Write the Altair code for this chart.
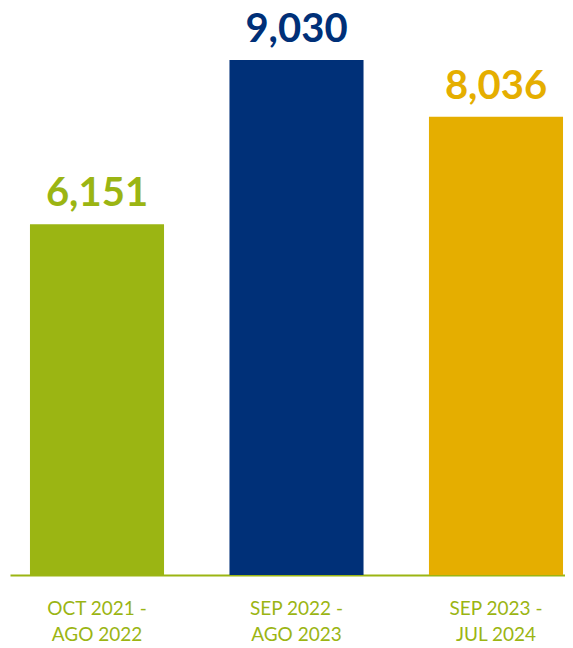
import altair as alt
import pandas as pd

period_lines = ["OCT 2021 -|AGO 2022", "SEP 2022 -|AGO 2023", "SEP 2023 -|JUL 2024"]
values = [6151, 9030, 8036]
colors = ["#9BB513", "#003078", "#E5AE00"]

df = pd.DataFrame({
    "period": period_lines,
    "value": values,
    "color": colors,
    "label": [f"{v:,}" for v in values],
})

x = alt.X(
    "period:N",
    sort=period_lines,
    scale=alt.Scale(paddingInner=0.328, paddingOuter=0.055, align=0.91),
    axis=alt.Axis(
        title=None,
        labelAngle=0,
        labelExpr="split(datum.label, '|')",
        labelFont="Lato",
        labelFontSize=19,
        labelColor="#9BB513",
        labelLineHeight=26,
        labelPadding=24,
        labelBaseline="top",
        ticks=False,
        domainColor="#9BB513",
        domainWidth=2,
        grid=False,
    ),
)
y = alt.Y("value:Q", scale=alt.Scale(domain=[0, 9801], nice=False), axis=None)

bars = alt.Chart(df).mark_bar().encode(
    x=x, y=y, color=alt.Color("color:N", scale=None)
)
text = alt.Chart(df).mark_text(
    font="Lato", fontSize=40, fontWeight="bold", baseline="alphabetic", dy=-18
).encode(x=x, y=y, text="label:N", color=alt.Color("color:N", scale=None))

chart = (bars + text).properties(
    width=555, height=559,
    padding={"left": 2, "top": 8, "right": 0, "bottom": 70},
    autosize=alt.AutoSizeParams(type="none"),
).configure_view(stroke=None)

chart.save("out.html", embed_options={"renderer": "svg", "actions": False})
